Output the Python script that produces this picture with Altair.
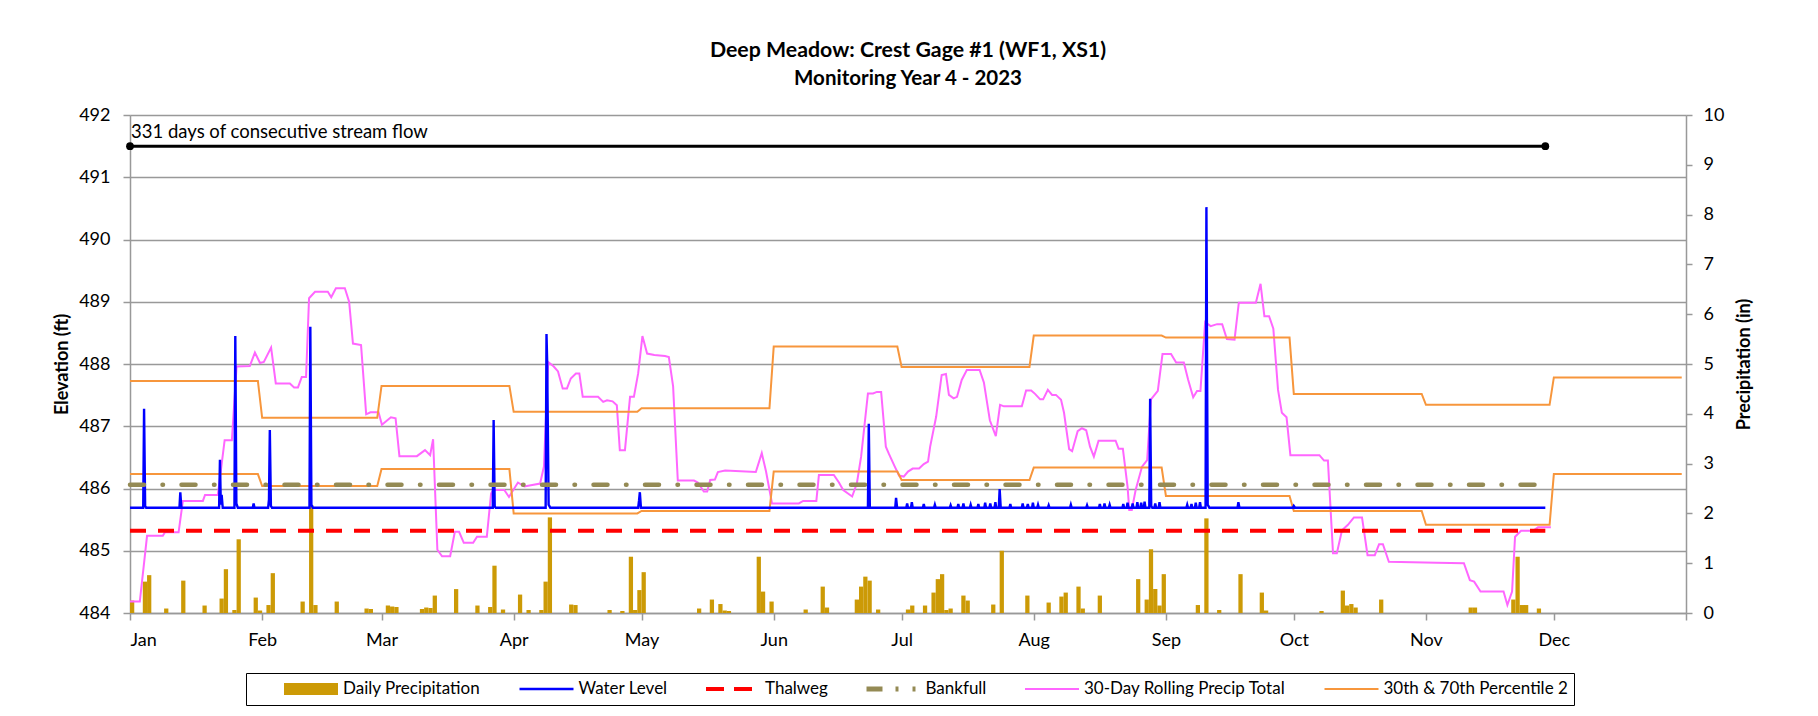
import altair as alt
import pandas as pd

START = pd.Timestamp("2023-01-01")
FONT = "Lato"
GRAY = "#999999"

SERIES = ["Daily Precipitation", "Water Level", "Thalweg", "Bankfull",
          "30-Day Rolling Precip Total", "30th & 70th Percentile 2"]
COLORS = ["#CC9A06", "#0000FF", "#FF0000", "#948A54", "#FF66FF", "#F7963C"]

# Daily precipitation: day offset from Jan 1 2023, inches
PRECIP_DAY = [0, 3, 4, 8, 12, 17, 21, 22, 24, 25, 29, 30, 32, 33, 40, 42, 43, 48, 55, 56,
              60, 61, 62, 68, 69, 70, 71, 76, 81, 84, 85, 87, 91, 93, 96, 97, 98, 103, 104, 112,
              115, 117, 118, 119, 120, 133, 136, 138, 139, 140, 147, 148, 150, 158, 162, 163, 170, 171, 172, 173,
              175, 182, 183, 186, 188, 189, 190, 191, 192, 195, 196, 202, 204, 210, 215, 218, 219, 222, 223, 227,
              236, 238, 239, 240, 241, 242, 250, 252, 255, 260, 265, 266, 279, 284, 285, 286, 287, 293, 314, 315,
              324, 325, 326, 327, 330]
PRECIP_IN = [0.25, 0.63, 0.76, 0.09, 0.65, 0.15, 0.29, 0.88, 0.06, 1.48, 0.31, 0.05, 0.16, 0.80, 0.23, 2.17, 0.16, 0.23, 0.09, 0.08,
             0.15, 0.13, 0.12, 0.08, 0.11, 0.10, 0.35, 0.48, 0.15, 0.12, 0.95, 0.07, 0.37, 0.06, 0.06, 0.63, 1.92, 0.17, 0.16, 0.06,
             0.04, 1.13, 0.06, 0.46, 0.82, 0.09, 0.27, 0.18, 0.05, 0.04, 1.13, 0.43, 0.23, 0.07, 0.53, 0.11, 0.27, 0.53, 0.73, 0.65,
             0.07, 0.07, 0.15, 0.15, 0.41, 0.68, 0.78, 0.06, 0.09, 0.35, 0.25, 0.17, 1.25, 0.35, 0.21, 0.33, 0.41, 0.53, 0.09, 0.35,
             0.68, 0.27, 1.28, 0.48, 0.15, 0.78, 0.16, 1.90, 0.06, 0.78, 0.41, 0.05, 0.04, 0.45, 0.15, 0.18, 0.11, 0.27, 0.11, 0.11,
             0.27, 1.13, 0.16, 0.16, 0.09]

# 30-day rolling precipitation total (day offset, inches)
ROLL_DAY = [0, 2.3, 4.0, 7.7, 8.2, 11.4, 12.4, 17.1, 17.6, 20.6, 22.2, 23.9, 25.0, 28.1, 29.3, 30.5, 31.4, 33.1, 34.2, 37.5,
            38.5, 39.4, 40.3, 41.3, 42.0, 43.4, 46.4, 47.2, 48.3, 50.4, 51.4, 52.3, 54.2, 55.4, 56.4, 58.3, 59.1, 61.2, 62.3, 63.2,
            67.3, 69.2, 70.4, 71.1, 72.1, 73.2, 75.1, 76.2, 77.2, 78.3, 80.5, 81.4, 83.7, 84.7, 85.2, 87.8, 88.9, 91.0, 92.5, 96.2,
            97.1, 98.1, 99.4, 100.4, 101.5, 102.5, 103.4, 104.6, 105.4, 106.2, 109.8, 111.0, 111.9, 113.2, 114.2, 114.9, 116.1, 117.3, 118.2, 119.2,
            120.2, 121.3, 123.0, 125.5, 126.4, 127.4, 128.5, 132.3, 133.2, 134.6, 135.4, 136.1, 137.2, 137.9, 139.6, 146.8, 148.2, 149.2, 150.6, 156.9,
            157.9, 161.0, 161.6, 165.1, 166.3, 167.3, 169.4, 170.5, 171.5, 173.1, 174.3, 175.2, 176.2, 177.3, 178.0, 179.4, 180.4, 181.5, 182.5, 183.6,
            185.1, 186.2, 187.2, 187.7, 189.1, 190.4, 191.4, 192.1, 193.2, 194.0, 195.1, 196.3, 199.3, 200.3, 201.7, 203.1, 204.1, 205.0, 209.2, 210.2,
            211.4, 212.3, 213.5, 214.2, 215.3, 216.3, 217.2, 218.4, 219.1, 220.3, 221.0, 222.3, 223.3, 224.3, 225.2, 226.1, 227.2, 231.2, 231.9, 232.9,
            234.0, 234.4, 235.0, 235.9, 237.4, 238.6, 239.5, 241.1, 242.2, 244.2, 245.4, 247.2, 248.2, 249.4, 250.3, 251.1, 252.2, 253.5, 255.0, 256.2,
            257.3, 259.1, 260.1, 264.1, 265.2, 266.1, 267.2, 268.2, 269.3, 270.2, 271.3, 272.2, 279.0, 280.1, 281.0, 282.2, 283.1, 284.3, 285.7, 287.1,
            289.0, 290.3, 292.0, 293.0, 293.9, 295.3, 306.5, 312.9, 314.3, 315.3, 316.8, 322.2, 323.1, 324.2, 324.9, 326.3, 329.1, 330.3, 333.3]
ROLL_IN = [0.23, 0.23, 1.55, 1.55, 1.62, 1.62, 2.25, 2.25, 2.37, 2.37, 3.47, 3.47, 4.95, 4.96, 5.23, 5.02, 5.04, 5.33, 4.61, 4.61,
           4.53, 4.53, 4.74, 4.74, 6.32, 6.45, 6.45, 6.34, 6.52, 6.52, 6.25, 5.41, 5.38, 3.99, 4.03, 4.03, 3.78, 3.93, 3.91, 3.15,
           3.15, 3.27, 3.17, 3.49, 1.27, 1.14, 1.14, 1.63, 1.63, 1.41, 1.41, 1.53, 1.53, 2.40, 2.47, 2.47, 2.33, 2.62, 2.54, 2.60,
           2.94, 5.04, 4.95, 4.85, 4.51, 4.51, 4.71, 4.81, 4.81, 4.34, 4.34, 4.24, 4.27, 4.25, 4.17, 3.27, 3.27, 4.34, 4.34, 4.81,
           5.56, 5.21, 5.18, 5.16, 5.14, 4.55, 2.66, 2.66, 2.62, 2.44, 2.44, 2.67, 2.68, 2.83, 2.86, 2.83, 3.21, 2.84, 2.20, 2.20,
           2.25, 2.25, 2.77, 2.77, 2.62, 2.47, 2.34, 2.60, 3.14, 4.41, 4.41, 4.44, 4.44, 3.34, 3.20, 2.94, 2.76, 2.74, 2.84, 2.90,
           2.90, 2.99, 3.04, 3.34, 3.94, 4.78, 4.80, 4.38, 4.31, 4.34, 4.68, 4.88, 4.88, 4.63, 3.87, 3.55, 4.18, 4.15, 4.15, 4.47,
           4.47, 4.40, 4.29, 4.29, 4.48, 4.38, 4.38, 4.28, 4.02, 3.29, 3.25, 3.65, 3.71, 3.67, 3.34, 3.14, 3.46, 3.46, 3.30, 3.30,
           2.54, 2.07, 2.07, 2.47, 2.94, 3.07, 4.29, 4.46, 5.20, 5.20, 5.03, 5.03, 4.69, 4.33, 4.46, 4.46, 5.84, 5.76, 5.80, 5.80,
           5.50, 5.49, 6.23, 6.23, 6.61, 5.96, 5.96, 5.71, 4.48, 4.02, 3.93, 3.17, 3.17, 3.06, 3.06, 1.20, 1.20, 1.66, 1.77, 1.92,
           1.92, 1.16, 1.16, 1.38, 1.38, 1.03, 1.01, 1.00, 0.66, 0.63, 0.43, 0.43, 0.16, 0.43, 1.53, 1.65, 1.65, 1.72, 1.72]

# Monthly 70th and 30th percentile of the 30-day total (inches)
P70_MONTHLY = [4.66, 3.92, 4.56, 4.04, 4.11, 5.35, 4.94, 5.57, 5.53, 4.40, 4.18, 4.73]
P30_MONTHLY = [2.79, 2.55, 2.89, 2.00, 2.05, 2.84, 2.67, 2.92, 2.35, 2.05, 1.77, 2.79]

# Water level (day offset, elevation ft)
WATER_LEVEL = [
    (0, 485.69),
    (3.1, 485.69), (3.3, 487.28), (3.55, 485.72), (3.8, 485.69),
    (11.6, 485.69), (11.8, 485.94), (12.05, 485.69),
    (20.9, 485.69), (21.1, 486.46), (21.3, 485.74), (21.5, 485.90), (21.75, 485.69),
    (24.5, 485.69), (24.7, 488.45), (24.95, 485.76), (25.3, 485.69),
    (28.8, 485.69), (29.0, 485.76), (29.2, 485.69),
    (32.4, 485.69), (32.6, 485.82), (32.8, 486.94), (33.05, 485.72), (33.3, 485.69),
    (42.1, 485.69), (42.3, 488.60), (42.55, 485.74), (42.9, 485.69),
    (85.1, 485.69), (85.3, 487.10), (85.55, 485.71), (85.8, 485.69),
    (97.5, 485.69), (97.7, 488.48), (97.85, 488.06), (98.2, 485.74), (98.6, 485.69),
    (119.2, 485.69), (119.4, 485.80), (119.6, 485.94), (119.85, 485.69),
    (173.1, 485.69), (173.3, 487.04), (173.55, 485.69),
    (179.5, 485.69), (179.7, 485.85), (179.95, 485.69),
    (182.1, 485.69), (182.3, 485.76), (182.5, 485.69),
    (183.2, 485.69), (183.4, 485.78), (183.6, 485.69),
    (186.0, 485.69), (186.2, 485.75), (186.4, 485.69),
    (188.6, 485.69), (188.8, 485.74), (189.0, 485.69),
    (192.3, 485.69), (192.5, 485.73), (192.7, 485.69),
    (194.1, 485.69), (194.3, 485.75), (194.5, 485.69),
    (195.3, 485.69), (195.5, 485.76), (195.7, 485.69),
    (197.0, 485.69), (197.2, 485.74), (197.4, 485.69),
    (198.8, 485.69), (199.0, 485.75), (199.2, 485.69),
    (200.4, 485.69), (200.6, 485.77), (200.8, 485.69),
    (201.6, 485.69), (201.8, 485.76), (202.0, 485.69),
    (202.8, 485.69), (203.0, 485.78), (203.2, 485.69),
    (203.8, 485.69), (204.0, 485.99), (204.25, 485.69),
    (206.3, 485.69), (206.5, 485.75), (206.7, 485.69),
    (209.2, 485.69), (209.4, 485.76), (209.6, 485.69),
    (210.4, 485.69), (210.6, 485.75), (210.8, 485.69),
    (211.6, 485.69), (211.8, 485.77), (212.0, 485.69),
    (212.8, 485.69), (213.0, 485.74), (213.2, 485.69),
    (215.3, 485.69), (215.5, 485.73), (215.7, 485.69),
    (220.5, 485.69), (220.7, 485.74), (220.9, 485.69),
    (224.3, 485.69), (224.5, 485.73), (224.7, 485.69),
    (227.3, 485.69), (227.5, 485.75), (227.7, 485.69),
    (228.4, 485.69), (228.6, 485.76), (228.8, 485.69),
    (229.6, 485.69), (229.8, 485.74), (230.0, 485.69),
    (232.8, 485.69), (233.0, 485.75), (233.2, 485.69),
    (233.8, 485.69), (234.0, 485.77), (234.2, 485.69),
    (235.0, 485.69), (235.2, 485.76), (235.4, 485.69),
    (236.1, 485.69), (236.3, 485.78), (236.5, 485.69),
    (237.0, 485.69), (237.2, 485.77), (237.4, 485.69),
    (237.8, 485.69), (238.0, 485.79), (238.2, 485.69),
    (239.1, 485.69), (239.3, 487.44), (239.55, 485.72), (239.8, 485.69),
    (240.3, 485.69), (240.5, 485.76), (240.7, 485.69),
    (241.3, 485.69), (241.5, 485.78), (241.7, 485.69),
    (247.8, 485.69), (248.0, 485.74), (248.2, 485.69),
    (248.8, 485.69), (249.0, 485.75), (249.2, 485.69),
    (249.8, 485.69), (250.0, 485.77), (250.2, 485.69),
    (250.8, 485.69), (251.0, 485.78), (251.2, 485.69),
    (252.3, 485.69), (252.5, 490.52), (252.8, 485.74), (253.2, 485.69),
    (259.8, 485.69), (260.0, 485.78), (260.25, 485.69),
    (272.8, 485.69), (273.0, 485.72), (273.3, 485.69),
    (332, 485.69),
]

THALWEG_FT = 485.32
BANKFULL_FT = 486.06
FLOW_FT = 491.5
FLOW_DAYS = [0, 332]
FLOW_LABEL = "331 days of consecutive stream flow"


def to_ts(days):
    return START + pd.to_timedelta(pd.Series(days, dtype=float), unit="D")


# ---- data frames ----
precip = pd.DataFrame({"inches": PRECIP_IN})
precip["date"] = to_ts(PRECIP_DAY)
precip["date_end"] = to_ts([d + 1 for d in PRECIP_DAY])
precip["series"] = SERIES[0]

roll = pd.DataFrame({"date": to_ts(ROLL_DAY), "inches": ROLL_IN, "series": SERIES[4]})

pct_rows = []
for band, vals in (("70th", P70_MONTHLY), ("30th", P30_MONTHLY)):
    for m, v in enumerate(vals):
        first = pd.Timestamp(2023, m + 1, 1)
        last = first + pd.offsets.MonthEnd(0)
        pct_rows.append({"date": first, "inches": v, "band": band})
        pct_rows.append({"date": last, "inches": v, "band": band})
pct = pd.DataFrame(pct_rows)
pct["series"] = SERIES[5]

wl = pd.DataFrame({"date": to_ts([p[0] for p in WATER_LEVEL]),
                   "ft": [p[1] for p in WATER_LEVEL], "series": SERIES[1]})
thal = pd.DataFrame({"date": to_ts(FLOW_DAYS), "ft": [THALWEG_FT] * 2, "series": SERIES[2]})
bank = pd.DataFrame({"date": to_ts(FLOW_DAYS), "ft": [BANKFULL_FT] * 2, "series": SERIES[3]})
flow = pd.DataFrame({"date": to_ts(FLOW_DAYS), "ft": [FLOW_FT] * 2, "label": [FLOW_LABEL, ""]})

# ---- encodings ----
month_ticks = [alt.DateTime(year=2023, month=m, date=1) for m in range(1, 13)] + \
              [alt.DateTime(year=2024, month=1, date=1)]
xaxis = alt.Axis(values=month_ticks, format="%b",
                 labelExpr="year(datum.value) > 2023 ? '' : timeFormat(datum.value, '%b')",
                 title=None, grid=False, tickSize=7, tickColor=GRAY, tickWidth=1.5,
                 domainColor=GRAY, domainWidth=1.5, labelFont=FONT, labelFontSize=18,
                 labelColor="black", labelPadding=11, labelOverlap=False)
X = alt.X("date:T", scale=alt.Scale(domain=[alt.DateTime(year=2023, month=1, date=1),
                                            alt.DateTime(year=2024, month=1, date=1)], padding=0),
          axis=xaxis, title=None)
X2 = alt.X2("date_end:T")

yL = alt.Y("ft:Q", scale=alt.Scale(domain=[484, 492], nice=False, zero=False, padding=0),
           axis=alt.Axis(orient="left", values=list(range(484, 493)), title="Elevation (ft)",
                         grid=True, gridColor=GRAY, gridWidth=1.5, domainColor=GRAY, domainWidth=1.5,
                         tickColor=GRAY, tickWidth=1.5, tickSize=7, labelPadding=13,
                         labelFont=FONT, labelFontSize=18, labelColor="black",
                         titleFont=FONT, titleFontSize=18, titleFontWeight="bold", titleColor="black",
                         titleAngle=270, titleX=-68, titleY=249, titleBaseline="middle", titleAlign="center"))
yR = alt.Y("inches:Q", scale=alt.Scale(domain=[0, 10], nice=False, zero=True, padding=0),
           axis=alt.Axis(orient="right", values=list(range(0, 11)), title="Precipitation (in)",
                         grid=False, domainColor=GRAY, domainWidth=1.5,
                         tickColor=GRAY, tickWidth=1.5, tickSize=6, labelPadding=11,
                         labelFont=FONT, labelFontSize=18, labelColor="black",
                         titleFont=FONT, titleFontSize=18, titleFontWeight="bold", titleColor="black",
                         titleAngle=270, titleX=58, titleY=249, titleBaseline="middle", titleAlign="center"))

NBSP = "\u00a0" * 8
LEGEND = alt.Legend(
    title=None, orient="none", legendX=116, legendY=558, direction="horizontal", columns=6,
    symbolType="stroke", symbolSize=2916, clipHeight=20, symbolOffset=50.5, labelOffset=23.5,
    columnPadding=6.5, padding=6,
    symbolStrokeWidth={"expr": "datum.value == 'Daily Precipitation' ? 12 : datum.value == 'Bankfull' ? 5 : datum.value == 'Thalweg' ? 4 : datum.value == 'Water Level' ? 2.5 : 2"},
    symbolDash={"expr": "datum.value == 'Thalweg' ? [18, 10] : datum.value == 'Bankfull' ? [16, 13, 3, 14, 3, 30] : [1, 0]"},
    symbolStrokeColor={"expr": "scale('color', datum.value)"},
    symbolOpacity=1,
    labelFont=FONT, labelFontSize=17, labelColor="black", labelLimit=600,
    labelExpr="datum.label == '30th & 70th Percentile 2' ? datum.label + '" + NBSP + "' : datum.label",
    strokeColor="black", fillColor="white",
)
C = alt.Color("series:N", scale=alt.Scale(domain=SERIES, range=COLORS), legend=LEGEND)

# ---- right axis layers (precipitation) ----
bars = alt.Chart(precip).mark_bar().encode(x=X, x2=X2, y=yR, y2=alt.datum(0), color=C)
roll_line = alt.Chart(roll).mark_line().encode(x=X, y=yR, color=C, strokeWidth=alt.value(2))
pct_line = alt.Chart(pct).mark_line().encode(x=X, y=yR, color=C, detail="band:N",
                                              strokeWidth=alt.value(2))
right = alt.layer(bars, roll_line, pct_line)

# ---- left axis layers (elevation) ----
wl_line = alt.Chart(wl).mark_line().encode(x=X, y=yL, color=C, strokeWidth=alt.value(2.4))
thal_line = alt.Chart(thal).mark_line().encode(x=X, y=yL, color=C, strokeWidth=alt.value(4),
                                               strokeDash=alt.value([16, 12]))
bank_line = alt.Chart(bank).mark_line(strokeCap="round").encode(
    x=X, y=yL, color=C, strokeWidth=alt.value(4.5), strokeDash=alt.value([14, 18.5, 0.5, 18.5]))
flow_line = alt.Chart(flow).mark_line(color="black").encode(x=X, y=yL, strokeWidth=alt.value(3))
flow_pts = alt.Chart(flow).mark_point(filled=True, color="black", opacity=1, size=60).encode(x=X, y=yL)
flow_txt = alt.Chart(flow).mark_text(align="left", baseline="alphabetic", dx=1, dy=-8,
                                     font=FONT, fontSize=18.5, color="black").encode(
    x=X, y=yL, text="label:N")
left = alt.layer(wl_line, thal_line, bank_line, flow_line, flow_pts, flow_txt)

chart = alt.layer(right, left).resolve_scale(y="independent").properties(
    width=1556, height=498,
    padding={"left": 122, "top": 107, "right": 120, "bottom": 93},
    autosize=alt.AutoSizeParams(type="none"),
    title=alt.TitleParams(
        text="Deep Meadow: Crest Gage #1 (WF1, XS1)",
        subtitle="Monitoring Year 4 - 2023",
        font=FONT, fontSize=21.3, fontWeight="bold", color="black",
        subtitleFont=FONT, subtitleFontSize=20.5, subtitleFontWeight="bold", subtitleColor="black",
        subtitlePadding=7, anchor="middle", offset=17,
    ),
).configure_view(stroke=None).configure(background="white")

chart.save("out.html", embed_options={"renderer": "svg", "actions": False})
